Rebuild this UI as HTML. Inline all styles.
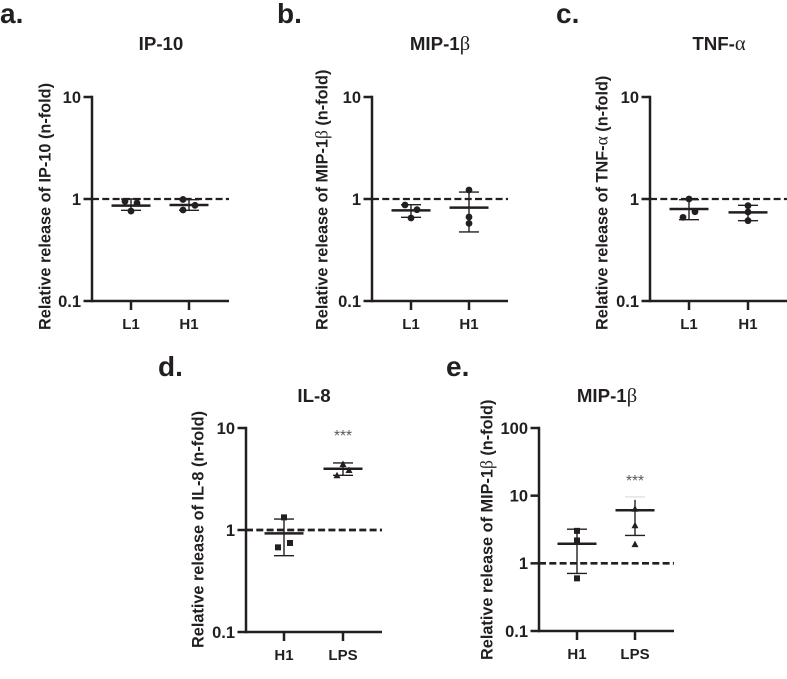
<!DOCTYPE html>
<html lang="en">
<head>
<meta charset="utf-8">
<title>Relative release charts</title>
<style>
html,body{margin:0;padding:0;background:#fff;width:787px;height:679px;overflow:hidden}
svg{display:block;font-family:"Liberation Sans",Arial,sans-serif;filter:blur(0.35px)}
text{fill:#231f20}
</style>
</head>
<body>
<svg id="figure" width="787" height="679" viewBox="0 0 787 679" xmlns="http://www.w3.org/2000/svg"></svg>
<script>
const panelACategories = ['L1', 'H1'];
const panelAMeans = [0.86, 0.873];
const panelAUpper = [1.0, 0.985];
const panelALower = [0.774, 0.774];
const panelAPoints = [[0.949, 0.914, 0.762], [0.99, 0.867, 0.78]];
const panelASlots = [[-1, 1, 0], [-1, 1, -1]];
const panelATicks = [0.1, 1, 10];
const panelATickLabels = ['0.1', '1', '10'];

const panelBCategories = ['L1', 'H1'];
const panelBMeans = [0.774, 0.822];
const panelBUpper = [0.88, 1.17];
const panelBLower = [0.661, 0.475];
const panelBPoints = [[0.873, 0.786, 0.651], [1.225, 0.666, 0.577]];
const panelBSlots = [[-1, 1, 0], [0, 0, 0]];
const panelBTicks = [0.1, 1, 10];
const panelBTickLabels = ['0.1', '1', '10'];

const panelCCategories = ['L1', 'H1'];
const panelCMeans = [0.798, 0.74];
const panelCUpper = [0.985, 0.867];
const panelCLower = [0.627, 0.613];
const panelCPoints = [[1.0, 0.751, 0.661], [0.86, 0.746, 0.613]];
const panelCSlots = [[0, 1, -1], [0, 0, 0]];
const panelCTicks = [0.1, 1, 10];
const panelCTickLabels = ['0.1', '1', '10'];

const panelDCategories = ['H1', 'LPS'];
const panelDMeans = [0.927, 3.99];
const panelDUpper = [1.28, 4.54];
const panelDLower = [0.56, 3.44];
const panelDPoints = [[1.33, 0.746, 0.676], [4.44, 3.87, 3.44]];
const panelDSlots = [[0, 1, -1], [0, 1, -1]];
const panelDTicks = [0.1, 1, 10];
const panelDTickLabels = ['0.1', '1', '10'];

const panelECategories = ['H1', 'LPS'];
const panelEMeans = [1.95, 6.09];
const panelEUpper = [3.2, 9.6];
const panelELower = [0.71, 2.58];
const panelEPoints = [[3.02, 2.18, 0.6], [6.4, 3.66, 1.92]];
const panelESlots = [[0, 0, 0], [0, 0, 0]];
const panelETicks = [0.1, 1, 10, 100];
const panelETickLabels = ['0.1', '1', '10', '100'];

const INK = '#231f20';
const NS = 'http://www.w3.org/2000/svg';
const root = document.getElementById('figure');

function make(parent, tag, attrs, txt) {
  const el = document.createElementNS(NS, tag);
  for (const k in attrs) el.setAttribute(k, attrs[k]);
  if (txt !== undefined) el.textContent = txt;
  parent.appendChild(el);
  return el;
}

function drawPanel(p) {
  const g = make(root, 'g', {});
  
  

  const lo = Math.log10(p.ticks[0]);
  const hi = Math.log10(p.ticks[p.ticks.length - 1]);
  const yScale = v => p.bottom - (Math.log10(v) - lo) / (hi - lo) * (p.bottom - p.top);
  const xScale = i => p.catX[i];

  const letter = make(g, 'text', {x: p.letterX, y: p.letterY, 'font-size': 28, 'font-weight': 700}, p.id + '.');
  
  

  const title = make(g, 'text', {x: p.titleX, y: p.titleY, 'font-size': 18.7, 'font-weight': 700, 'text-anchor': 'middle'});
  
  
  title.appendChild(document.createTextNode(p.title));
  if (p.greek) make(title, 'tspan', {'font-family': '"Liberation Serif",serif', 'font-weight': 400, 'font-size': 20.5}, p.greek);

  const yTitle = make(g, 'text', {transform: 'translate(' + p.yTitleX + ',' + p.yTitleBottom + ') rotate(-90)', 'font-size': 16.3, 'font-weight': 700});
  
  
  yTitle.appendChild(document.createTextNode('Relative release of ' + p.title));
  if (p.greek) make(yTitle, 'tspan', {'font-family': '"Liberation Serif",serif', 'font-weight': 400, 'font-size': 17.5}, p.greek);
  yTitle.appendChild(document.createTextNode(' (n-fold)'));

  const yAxis = make(g, 'line', {x1: p.axisX, x2: p.axisX, y1: p.top - 1.2, y2: p.bottom + 1.2, stroke: INK, 'stroke-width': 2.5});
  
  
  const xAxis = make(g, 'line', {x1: p.axisX, x2: p.axisEnd, y1: p.bottom, y2: p.bottom, stroke: INK, 'stroke-width': 2.5});
  
  

  p.ticks.forEach((t, i) => {
    const y = yScale(t);
    const tick = make(g, 'line', {x1: p.axisX - 8.5, x2: p.axisX, y1: y, y2: y, stroke: INK, 'stroke-width': 2.5});
    
    
    const lab = make(g, 'text', {x: p.axisX - 11, y: y + 5.8, 'font-size': 16.5, 'font-weight': 700, 'text-anchor': 'end'}, p.tickLabels[i]);
    
    
  });

  p.categories.forEach((c, i) => {
    const x = xScale(i);
    const tick = make(g, 'line', {x1: x, x2: x, y1: p.bottom, y2: p.bottom + 9, stroke: INK, 'stroke-width': 2.5});
    
    
    const lab = make(g, 'text', {x: x, y: p.bottom + 28, 'font-size': 15, 'font-weight': 700, 'text-anchor': 'middle'}, c);
    
    
  });

  const ref = make(g, 'line', {x1: p.axisX, x2: p.axisEnd, y1: yScale(1), y2: yScale(1), stroke: INK, 'stroke-width': p.refWidth, 'stroke-dasharray': '7 3.3'});
  
  

  p.categories.forEach((c, i) => {
    const x = xScale(i);
    p.points[i].forEach((v, j) => {
      const cx = x + p.slots[i][j] * 6;
      const cy = yScale(v);
      let m;
      if (p.marker === 'circle') {
        m = make(g, 'circle', {cx: cx, cy: cy, r: 3.4, fill: INK});
      } else if (i === 0) {
        m = make(g, 'rect', {x: cx - 3, y: cy - 3, width: 6, height: 6, fill: INK});
      } else {
        m = make(g, 'polygon', {points: (cx - 3.5) + ',' + (cy + 3) + ' ' + (cx + 3.5) + ',' + (cy + 3) + ' ' + cx + ',' + (cy - 3.5), fill: INK});
      }
      
      
    });
    const faint = p.faintUpper && p.faintUpper[i];
    const yU = yScale(p.upper[i]);
    const yL = yScale(p.lower[i]);
    const stem = make(g, 'line', {x1: x, x2: x, y1: faint ? yU + 3 : yU, y2: yL, stroke: INK, 'stroke-width': 1.4});
    
    
    const capU = make(g, 'line', {x1: x - 10, x2: x + 10, y1: yU, y2: yU, stroke: faint ? '#e4e3e3' : INK, 'stroke-width': 1.4});
    
    
    const capL = make(g, 'line', {x1: x - 10, x2: x + 10, y1: yL, y2: yL, stroke: INK, 'stroke-width': 1.4});
    
    
    const mean = make(g, 'line', {x1: x - 19.5, x2: x + 19.5, y1: yScale(p.means[i]), y2: yScale(p.means[i]), stroke: INK, 'stroke-width': 2.5});
    
    
  });

  if (p.starsY) {
    const stars = make(g, 'text', {x: xScale(1), y: p.starsY, 'font-size': 15.5, 'text-anchor': 'middle', style: 'fill:#58595b'}, '***');
    
    
  }
}

const panels = [
  {id: 'a', title: 'IP-10', greek: '', categories: panelACategories, means: panelAMeans, upper: panelAUpper, lower: panelALower, points: panelAPoints, slots: panelASlots, ticks: panelATicks, tickLabels: panelATickLabels, marker: 'circle', refWidth: 2.2, axisX: 92, axisEnd: 229, top: 97, bottom: 301, catX: [131, 189], letterX: 0, letterY: 23, titleX: 161, titleY: 50, yTitleX: 50.5, yTitleBottom: 330},
  {id: 'b', title: 'MIP-1', greek: 'β', categories: panelBCategories, means: panelBMeans, upper: panelBUpper, lower: panelBLower, points: panelBPoints, slots: panelBSlots, ticks: panelBTicks, tickLabels: panelBTickLabels, marker: 'circle', refWidth: 2.2, axisX: 372, axisEnd: 508, top: 97, bottom: 301, catX: [411, 469], letterX: 277, letterY: 23, titleX: 440, titleY: 50, yTitleX: 327.5, yTitleBottom: 330},
  {id: 'c', title: 'TNF-', greek: 'α', categories: panelCCategories, means: panelCMeans, upper: panelCUpper, lower: panelCLower, points: panelCPoints, slots: panelCSlots, ticks: panelCTicks, tickLabels: panelCTickLabels, marker: 'circle', refWidth: 2.2, axisX: 650, axisEnd: 787, top: 97, bottom: 301, catX: [689, 748], letterX: 556, letterY: 23, titleX: 719, titleY: 50, yTitleX: 607.5, yTitleBottom: 330},
  {id: 'd', title: 'IL-8', greek: '', categories: panelDCategories, means: panelDMeans, upper: panelDUpper, lower: panelDLower, points: panelDPoints, slots: panelDSlots, ticks: panelDTicks, tickLabels: panelDTickLabels, marker: 'mixed', refWidth: 2.8, axisX: 246, axisEnd: 382, top: 428, bottom: 632, catX: [284, 343], letterX: 158, letterY: 376, titleX: 314, titleY: 402, yTitleX: 203.5, yTitleBottom: 648, starsY: 441},
  {id: 'e', title: 'MIP-1', greek: 'β', categories: panelECategories, means: panelEMeans, upper: panelEUpper, lower: panelELower, points: panelEPoints, slots: panelESlots, ticks: panelETicks, tickLabels: panelETickLabels, marker: 'mixed', refWidth: 2.6, axisX: 539, axisEnd: 674, top: 428, bottom: 631, catX: [577, 635], letterX: 446, letterY: 376, titleX: 607, titleY: 402, yTitleX: 492.5, yTitleBottom: 660, starsY: 486, faintUpper: [false, true]}
];
panels.forEach(drawPanel);
</script>
</body>
</html>
